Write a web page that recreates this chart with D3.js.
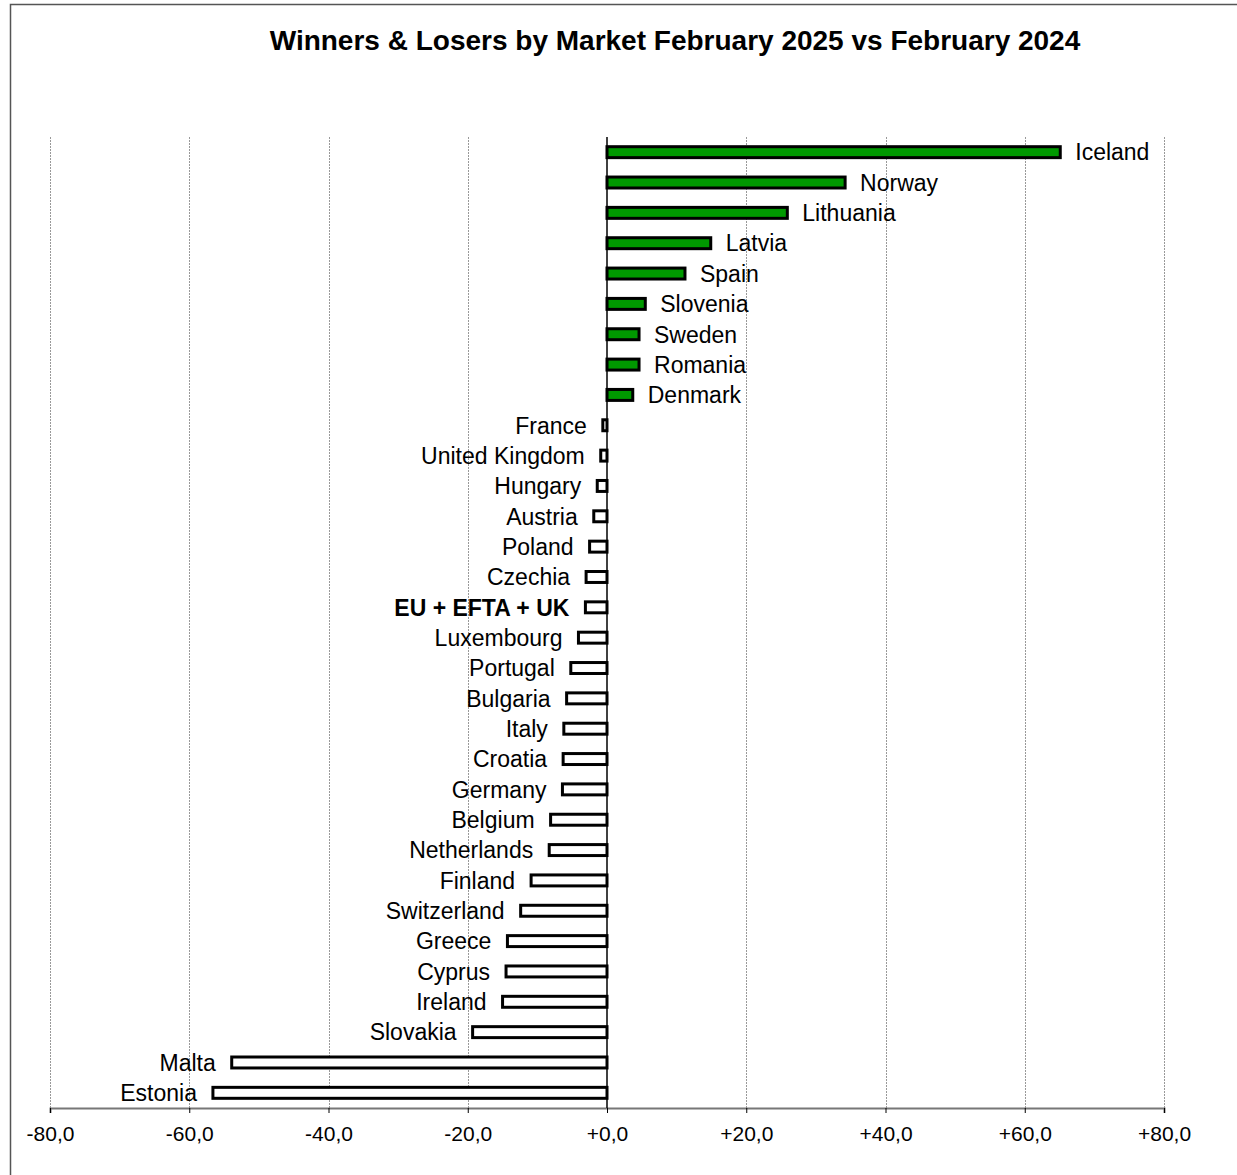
<!DOCTYPE html>
<html>
<head>
<meta charset="utf-8">
<script src="https://cdn.jsdelivr.net/npm/d3@7"></script>
<style>
  body { margin: 0; background: #fff; }
  text { font-family: "Liberation Sans", Arial, sans-serif; }
</style>
</head>
<body>
<div id="chart"></div>
<script>
var markets = ["Iceland", "Norway", "Lithuania", "Latvia", "Spain", "Slovenia", "Sweden", "Romania", "Denmark",
	"France", "United Kingdom", "Hungary", "Austria", "Poland", "Czechia", "EU + EFTA + UK", "Luxembourg",
	"Portugal", "Bulgaria", "Italy", "Croatia", "Germany", "Belgium", "Netherlands", "Finland", "Switzerland",
	"Greece", "Cyprus", "Ireland", "Slovakia", "Malta", "Estonia"];
var change = [65.1, 34.2, 25.9, 14.9, 11.2, 5.5, 4.6, 4.6, 3.7,
	-0.6, -0.9, -1.4, -1.9, -2.5, -3.0, -3.1, -4.1,
	-5.2, -5.8, -6.2, -6.3, -6.4, -8.1, -8.3, -10.9, -12.4,
	-14.3, -14.5, -15.0, -19.3, -53.9, -56.6];
var ticks = [-80, -60, -40, -20, 0, 20, 40, 60, 80];
var highlight = "EU + EFTA + UK";

var W = 1237, H = 1175;
var svg = d3.select("#chart").append("svg").attr("width", W).attr("height", H);

// outer frame
svg.append("rect").attr("x", 10.5).attr("y", 4.5).attr("width", W).attr("height", H)
	.attr("fill", "none").attr("stroke", "#555").attr("stroke-width", 1.5);

svg.append("text").attr("x", 675).attr("y", 50).attr("text-anchor", "middle")
	.style("font-size", "28px").style("font-weight", "bold")
	.text("Winners & Losers by Market February 2025 vs February 2024");

var x = d3.scaleLinear().domain([-80, 80]).range([50, 1164]);
var y = d3.scaleBand().domain(markets).range([137, 1108]).paddingInner(0.54).paddingOuter(0.27);

// gridlines
svg.selectAll(".grid").data(ticks.filter(function(t) { return t !== 0; }))
	.enter().append("line")
	.attr("x1", function(d) { return Math.round(x(d)) + 0.5; })
	.attr("x2", function(d) { return Math.round(x(d)) + 0.5; })
	.attr("y1", 137).attr("y2", 1108)
	.attr("stroke", "#999").attr("stroke-width", 1).attr("stroke-dasharray", "2,1");

// axis
var axis = svg.append("g").attr("transform", "translate(0,1108)")
	.call(d3.axisBottom(x).tickValues(ticks).tickSize(5).tickPadding(13)
		.tickFormat(function(d) { return (d >= 0 ? "+" : "") + d.toFixed(1).replace(".", ","); }));
axis.select(".domain").attr("stroke", "#777").attr("stroke-width", 2);
axis.selectAll(".tick line").attr("stroke", "#000");
axis.selectAll(".tick text").style("font-size", "21px").attr("fill", "#000")
	.style("font-family", "Liberation Sans, Arial, sans-serif");

// zero line
svg.append("line").attr("x1", x(0)).attr("x2", x(0)).attr("y1", 137).attr("y2", 1108)
	.attr("stroke", "#000").attr("stroke-width", 1.5);

var bars = svg.selectAll(".bar").data(markets).enter().append("g");

bars.append("rect")
	.attr("x", function(d, i) { return x(Math.min(0, change[i])); })
	.attr("y", function(d) { return y(d) + 1.5; })
	.attr("width", function(d, i) { return Math.abs(x(change[i]) - x(0)); })
	.attr("height", y.bandwidth() - 3)
	.attr("fill", function(d, i) { return change[i] > 0 ? "#009900" : "#fff"; })
	.attr("stroke", "#000").attr("stroke-width", 3);

bars.append("text")
	.attr("x", function(d, i) { return change[i] > 0 ? x(change[i]) + 15 : x(change[i]) - 16; })
	.attr("y", function(d) { return y(d) + y.bandwidth() / 2; })
	.attr("dy", "0.36em")
	.attr("text-anchor", function(d, i) { return change[i] > 0 ? "start" : "end"; })
	.style("font-size", "23px")
	.style("font-weight", function(d) { return d === highlight ? "bold" : "normal"; })
	.text(function(d) { return d; });
</script>
</body>
</html>
